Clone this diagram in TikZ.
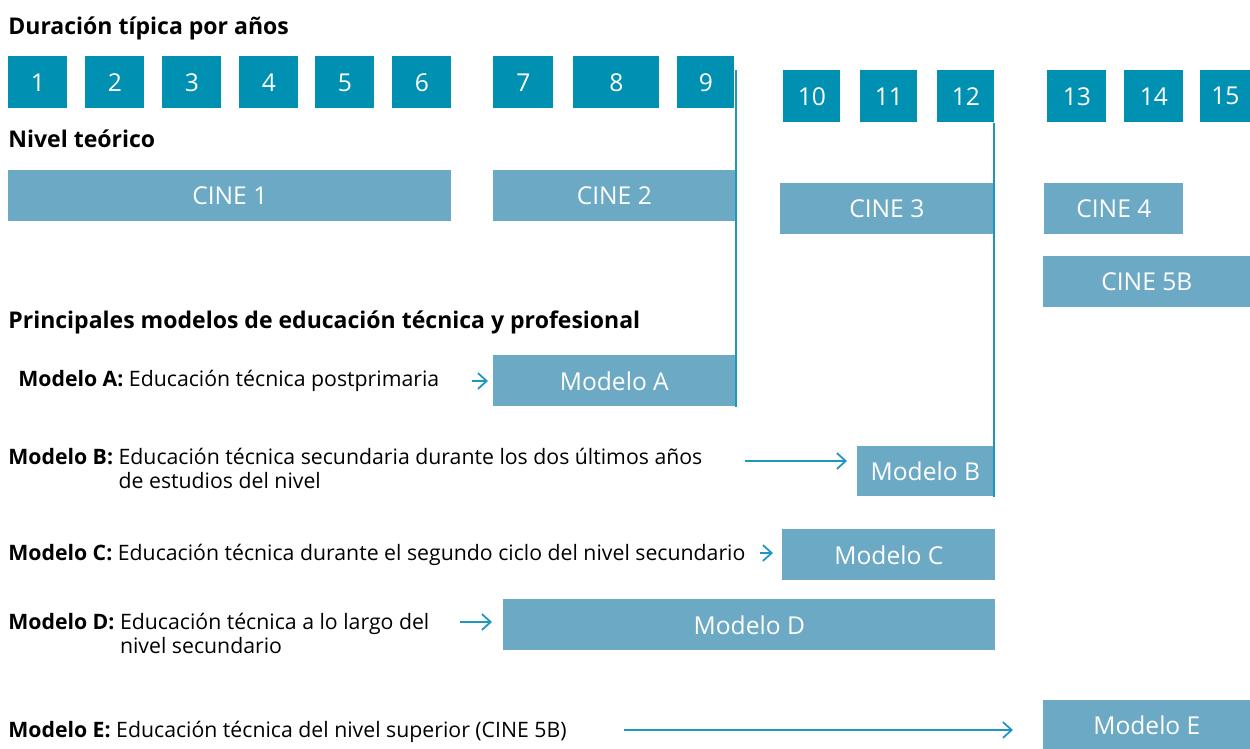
\documentclass[tikz,border=0pt]{standalone}
\usepackage{fontspec}
\setmainfont{Open Sans}
\usetikzlibrary{positioning, arrows.meta}
\definecolor{yearblue}{RGB}{0,145,178}
\definecolor{cineblue}{RGB}{108,169,196}
\definecolor{linkblue}{RGB}{30,150,190}
\tikzset{
  yearbox/.style={rectangle, fill=yearblue, text=white, anchor=north west, inner sep=0pt,
    minimum width=1.18cm, minimum height=1.04cm, font=\fontsize{14}{16}\selectfont},
  cinebox/.style={rectangle, fill=cineblue, text=white, anchor=north west, inner sep=0pt,
    minimum height=1.02cm, font=\fontsize{14}{16}\selectfont},
  heading/.style={anchor=base west, inner sep=0pt, font=\bfseries\fontsize{13.1}{16}\selectfont},
  modeltext/.style={anchor=base west, inner sep=0pt, font=\fontsize{12.1}{14.2}\selectfont},
  link/.style={draw=linkblue, line width=1pt},
  arr/.style={link, -{Straight Barb[length=5pt, width=9pt]}},
}

\begin{document}
\begin{tikzpicture}
			[x=0.02cm, y=-0.02cm]
		\useasboundingbox (0,0) rectangle (1250,749);
		% headings %
		\node[heading] (hdur) at (8,35) {Duración típica por años};
		\node[heading] (hniv) at (8,148) {Nivel teórico};
		\node[heading] (hmod) at (8,329) {Principales modelos de educación técnica y profesional};

		% years %
		\node[yearbox] (y1) at (8,56) {1};
		\node[yearbox] (y2) at (85,56) {2};
		\node[yearbox] (y3) at (162,56) {3};
		\node[yearbox] (y4) at (239,56) {4};
		\node[yearbox] (y5) at (315,56) {5};
		\node[yearbox] (y6) at (392,56) {6};
		\node[yearbox, minimum width=1.2cm] (y7) at (493,56) {7};
		\node[yearbox, minimum width=1.72cm] (y8) at (573,56) {8};
		\node[yearbox, minimum width=1.14cm] (y9) at (677,56) {9};
		\node[yearbox, minimum width=1.14cm] (y10) at (783,70) {10};
		\node[yearbox, minimum width=1.14cm] (y11) at (860,70) {11};
		\node[yearbox, minimum width=1.14cm] (y12) at (937,70) {12};
		\node[yearbox] (y13) at (1047,70) {13};
		\node[yearbox] (y14) at (1124,70) {14};
		\node[yearbox, minimum width=1cm] (y15) at (1200,70) {15};

		% levels %
		\node[cinebox, minimum width=8.86cm] (cine1) at (8,170) {CINE 1};
		\node[cinebox, minimum width=4.84cm] (cine2) at (493,170) {CINE 2};
		\node[cinebox, minimum width=4.26cm] (cine3) at (780,183) {CINE 3};
		\node[cinebox, minimum width=2.78cm] (cine4) at (1044,183) {CINE 4};
		\node[cinebox, minimum width=4.14cm] (cine5) at (1043,256) {CINE 5B};

		% models %
		\node[cinebox, minimum width=4.84cm] (modA) at (493,355) {Modelo A};
		\node[cinebox, minimum width=2.72cm, minimum height=1cm] (modB) at (857,446) {Modelo B};
		\node[cinebox, minimum width=4.26cm] (modC) at (782,529) {Modelo C};
		\node[cinebox, minimum width=9.84cm] (modD) at (503,599) {Modelo D};
		\node[cinebox, minimum width=4.14cm, minimum height=0.98cm] (modE) at (1043,700) {Modelo E};

		\node[modeltext] (txtA) at (18,387) {\textbf{Modelo A:} Educación técnica postprimaria};
		\node[modeltext] (txtB) at (8,464) {\begin{tabular}[t]{@{}l@{ }l@{}}
			\textbf{Modelo B:} & Educación técnica secundaria durante los dos últimos años\\
			& de estudios del nivel\end{tabular}};
		\node[modeltext] (txtC) at (8,560) {\textbf{Modelo C:} Educación técnica durante el segundo ciclo del nivel secundario};
		\node[modeltext] (txtD) at (8,629) {\begin{tabular}[t]{@{}l@{ }l@{}}
			\textbf{Modelo D:} & Educación técnica a lo largo del\\
			& nivel secundario\end{tabular}};
		\node[modeltext] (txtE) at (8,737) {\textbf{Modelo E:} Educación técnica del nivel superior (CINE 5B)};

		% arrows %
		\coordinate (aA) at (472,381);
		\coordinate (aB) at (745,461);
		\coordinate (aC) at (760,553);
		\coordinate (aD) at (460,622);
		\coordinate (aE) at (624,730);
		\draw[arr, shorten >=0.1cm] (aA) -- (aA -| modA.west);
		\draw[arr, shorten >=0.2cm] (aB) -- (aB -| modB.west);
		\draw[arr, shorten >=0.18cm] (aC) -- (aC -| modC.west);
		\draw[arr, shorten >=0.22cm] (aD) -- (aD -| modD.west);
		\draw[arr, shorten >=0.6cm] (aE) -- (aE -| modE.west);

		% limits %
		\draw[link] (modA.south east) -- (modA.south east |- y10.north);
		\draw[link] (modB.south east) -- (modB.south east |- y12.south);
		\end{tikzpicture}
\end{document}
